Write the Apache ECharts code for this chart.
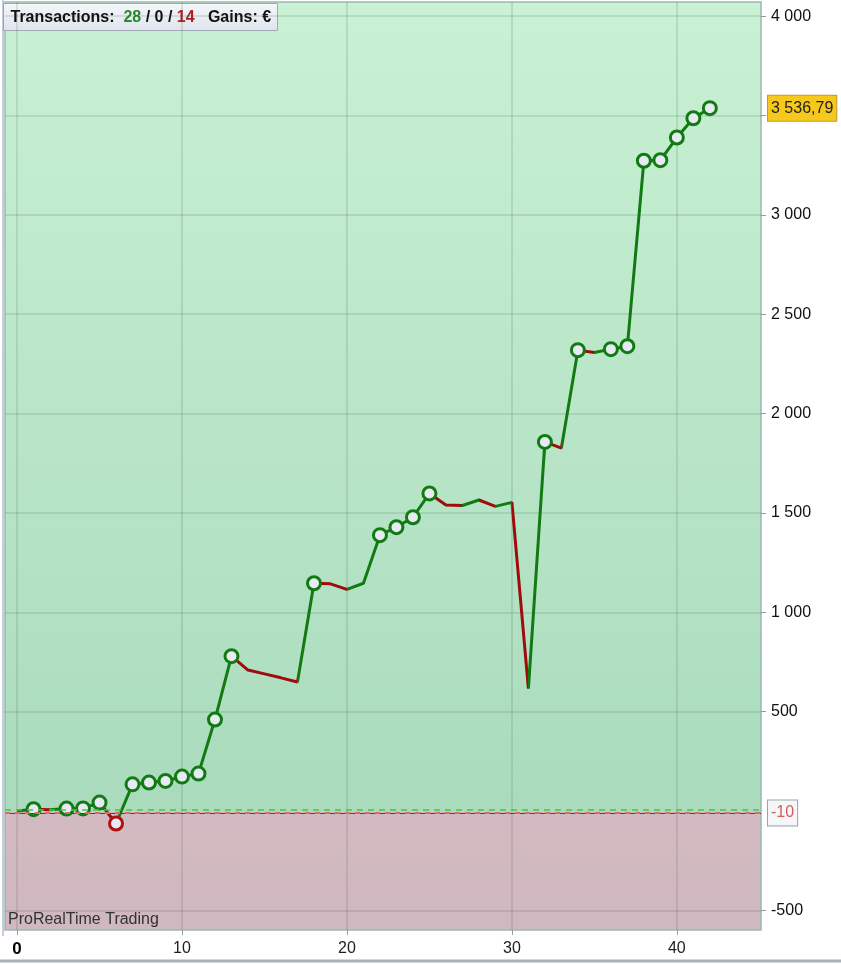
<!DOCTYPE html>
<html>
<head>
<meta charset="utf-8">
<script src="https://cdn.jsdelivr.net/npm/echarts@6/dist/echarts.min.js"></script>
<style>
html,body{margin:0;padding:0;background:#ffffff;}
#chart{width:841px;height:964px;}
</style>
</head>
<body>
<div id="chart"></div>
<script>
// ---- data ----
const tradeIndex = [0,1,2,3,4,5,6,7,8,9,10,11,12,13,14,15,16,17,18,19,20,21,22,23,24,25,26,27,28,29,30,31,32,33,34,35,36,37,38,39,40,41,42];
const equity = [0, 9, 6, 12, 13, 42, -63, 134, 143, 151, 173, 188, 460, 779, 709, 690, 670, 649,
  1146, 1143, 1115, 1146, 1388, 1428, 1478, 1598, 1540, 1537, 1565, 1533, 1553, 616,
  1857, 1826, 2319, 2307, 2324, 2339, 3272, 3275, 3389, 3486, 3536.79];
const hasMarker = [0,1,0,1,1,1,1, 1,1,1,1,1,1,1, 0,0,0,0, 1, 0,0,0, 1,1,1,1, 0,0,0,0,0,0, 1,0,1,0,1,1, 1,1,1,1,1];
const xTicks = [0, 10, 20, 30, 40];
const yGridValues = [-500, 500, 1000, 1500, 2000, 2500, 3000, 3500, 4000];
const yLabelValues = [-500, 500, 1000, 1500, 2000, 2500, 3000, 4000];
const wins = 28, neutral = 0, losses = 14;
const zeroLineValue = 8;
const refLineValue = -10;

const GREEN = '#127a12';
const RED = '#9e0c0c';

function fmt(v) {
  const neg = v < 0;
  const a = Math.abs(v);
  const intPart = Math.floor(a);
  const dec = Math.round((a - intPart) * 100);
  let s = String(intPart).replace(/\B(?=(\d{3})+(?!\d))/g, ' ');
  if (dec > 0) s += ',' + String(dec).padStart(2, '0');
  return (neg ? '-' : '') + s;
}

const lineData = tradeIndex.map((x, i) => [x, equity[i]]);
const markerData = [];
tradeIndex.forEach((x, i) => {
  if (hasMarker[i]) {
    const loss = i > 0 && equity[i] < equity[i - 1];
    markerData.push({ value: [x, equity[i]], itemStyle: { borderColor: loss ? '#b01010' : GREEN } });
  }
});
const pieces = [];
for (let i = 0; i < tradeIndex.length - 1; i++) {
  const down = equity[i + 1] < equity[i];
  pieces.push({ gte: tradeIndex[i], lt: tradeIndex[i + 1], color: down ? RED : GREEN });
}
pieces.push({ gte: tradeIndex[tradeIndex.length - 1], color: GREEN });

const lastValue = equity[equity.length - 1];
const yMin = -599, yMax = 4071;
const zeroFrac = (yMax - 0) / (yMax - yMin);

const chart = echarts.init(document.getElementById('chart'), null, { renderer: 'canvas' });
const FONT = '"Liberation Sans", Arial, sans-serif';

chart.setOption({
  animation: false,
  textStyle: { fontFamily: FONT },
  grid: {
    left: 5, right: 80, top: 2, bottom: 34,
    show: true,
    borderColor: '#9ab9b1',
    borderWidth: 1.5,
    backgroundColor: new echarts.graphic.LinearGradient(0, 0, 0, 1, [
      { offset: 0, color: '#c9f1d3' },
      { offset: zeroFrac, color: '#aadbbd' },
      { offset: zeroFrac, color: '#d3bac1' },
      { offset: 1, color: '#d0b8c0' }
    ])
  },
  xAxis: {
    type: 'value',
    min: -0.73,
    max: 45.1,
    axisLine: { show: false, onZero: false },
    axisTick: { show: true, customValues: xTicks, length: 5, lineStyle: { color: '#999' } },
    axisLabel: {
      customValues: xTicks,
      margin: 11,
      fontSize: 16,
      color: '#222',
      fontFamily: FONT,
      formatter: v => v === 0 ? '{b|0}' : String(v),
      rich: { b: { fontWeight: 'bold', fontSize: 17, color: '#000', fontFamily: FONT } }
    },
    splitLine: { show: true, lineStyle: { color: 'rgba(40,60,50,0.16)', width: 1.5 } }
  },
  yAxis: {
    type: 'value',
    position: 'right',
    min: yMin,
    max: yMax,
    axisLine: { show: false, onZero: false },
    axisTick: { show: true, customValues: yGridValues, length: 5, lineStyle: { color: '#999' } },
    axisLabel: {
      customValues: yLabelValues,
      margin: 10,
      fontSize: 16,
      color: '#111',
      fontFamily: FONT,
      formatter: v => fmt(v)
    },
    splitLine: { show: true, lineStyle: { color: 'rgba(40,60,50,0.16)', width: 1.5 } }
  },
  visualMap: {
    show: false,
    type: 'piecewise',
    dimension: 0,
    seriesIndex: 0,
    pieces: pieces
  },
  series: [
    {
      type: 'line',
      data: lineData,
      showSymbol: false,
      symbol: 'none',
      lineStyle: { width: 3 },
      z: 3
    },
    {
      type: 'scatter',
      data: markerData,
      symbol: 'circle',
      symbolSize: 13,
      itemStyle: { color: '#e6ebf3', borderWidth: 3, borderColor: GREEN, opacity: 1 },
      z: 4,
      markLine: {
        silent: true,
        symbol: ['none', 'none'],
        animation: false,
        data: [
          { yAxis: zeroLineValue, lineStyle: { color: '#4cc44c', type: [6, 5], width: 1.5 }, label: { show: false } },
          { yAxis: refLineValue, lineStyle: { color: '#3040b0', type: [5, 5], dashOffset: 5, width: 1 }, label: { show: false } },
          {
            yAxis: refLineValue,
            lineStyle: { color: '#e06868', type: [5, 5], width: 2 },
            label: {
              show: true, position: 'end', distance: 7,
              formatter: fmt(refLineValue),
              color: '#d06060', fontSize: 16, fontFamily: FONT,
              backgroundColor: '#f4f6f8', borderColor: '#9aa4a8', borderWidth: 1,
              padding: [6, 3, 3, 3]
            }
          },
          {
            yAxis: lastValue,
            lineStyle: { color: 'rgba(0,0,0,0)', width: 0 },
            label: {
              show: true, position: 'end', distance: 7,
              formatter: fmt(lastValue),
              color: '#222', fontSize: 16, fontFamily: FONT,
              backgroundColor: '#f6c81c',
              borderColor: '#c09a30', borderWidth: 1,
              padding: [5, 3, 4, 3]
            }
          }
        ]
      }
    }
  ],
  graphic: [
    { type: 'line', shape: { x1: 3, y1: 0, x2: 3, y2: 936 }, style: { stroke: '#8a9ac0', lineWidth: 1 }, z: 10 },
    { type: 'line', shape: { x1: 0, y1: 961, x2: 841, y2: 961 }, style: { stroke: '#a9b1b9', lineWidth: 3 }, z: 10 },
    {
      type: 'group', left: 3, top: 3, z: 20,
      children: [
        {
          type: 'rect', shape: { x: 0, y: 0, width: 274, height: 27 },
          style: {
            fill: new echarts.graphic.LinearGradient(0, 0, 0, 1, [
              { offset: 0, color: '#f4f7fa' }, { offset: 1, color: '#dfe5ec' }
            ]),
            stroke: '#a0aab4', lineWidth: 1
          }
        },
        {
          type: 'text', x: 7, y: 14,
          style: {
            text: '{k|Transactions:  }{g|' + wins + '}{k| / ' + neutral + ' / }{r|' + losses + '}{k|   Gains: €}',
            verticalAlign: 'middle',
            rich: {
              k: { fontSize: 16, fontWeight: 'bold', fill: '#111', fontFamily: FONT },
              g: { fontSize: 16, fontWeight: 'bold', fill: '#2a8a2a', fontFamily: FONT },
              r: { fontSize: 16, fontWeight: 'bold', fill: '#b02020', fontFamily: FONT }
            }
          }
        }
      ]
    },
    {
      type: 'text', left: 8, top: 912, z: 20,
      style: { text: 'ProRealTime Trading', fontSize: 16, fill: '#333', fontFamily: FONT }
    }
  ]
});
</script>
</body>
</html>
